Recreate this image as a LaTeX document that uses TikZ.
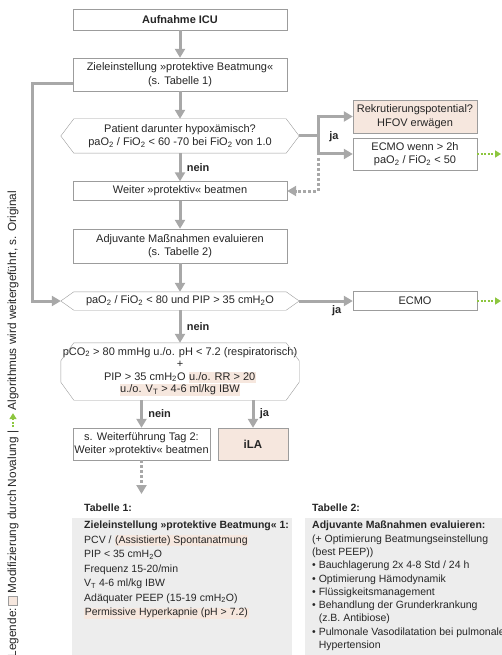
\documentclass[tikz,border=0pt]{standalone}
\usepackage{fontspec}
\setmainfont{Liberation Sans}
\usetikzlibrary{arrows.meta}
\definecolor{arrgray}{HTML}{A8A8A8}
\definecolor{boxgray}{HTML}{9C9C9C}
\definecolor{salmon}{HTML}{F6E7DE}
\definecolor{tabgray}{HTML}{EDEDED}
\definecolor{novagreen}{HTML}{8DC63F}
\definecolor{ink}{HTML}{262626}
\newcommand{\hl}[1]{{\setlength{\fboxsep}{0.6pt}\colorbox{salmon}{\rule[-2.3pt]{0pt}{9.8pt}#1}}}
\begin{document}
\begin{tikzpicture}[x=1pt, y=-1pt, every node/.style={text=ink}, font=\fontsize{11}{13.5}\selectfont,
    box/.style={draw=boxgray, fill=white, minimum width=214pt, align=center, inner sep=1pt},
    hexa/.style={minimum width=238pt, align=center, inner sep=0pt},
    rim/.style={draw=boxgray},
    flow/.style={draw=arrgray, line width=3pt, -{Triangle[width=10pt,length=9pt]}},
    dotflow/.style={flow, dash pattern=on 3pt off 2pt},
    extflow/.style={draw=novagreen, line width=2pt, dash pattern=on 2pt off 1.5pt, -{Triangle[width=7pt,length=6pt]}},
    lbl/.style={font=\fontsize{11}{13}\selectfont\bfseries},
    tabbox/.style={fill=tabgray, anchor=north west, inner sep=0pt},
    tabtext/.style={anchor=north west, align=left, inner sep=0pt},
    legtxt/.style={rotate=90, anchor=west, inner sep=1.5pt, font=\fontsize{11.8}{13}\selectfont}]
\useasboundingbox (0,0) rectangle (501,655);

\node[box, minimum height=21pt, font=\fontsize{11}{13}\selectfont\bfseries] (icu) at (180,19.5) {Aufnahme ICU};
\node[box, minimum height=33pt] (ziel) at (180,74.5) {Zieleinstellung »protektive Beatmung«\\(s. Tabelle 1)};
\node[hexa, minimum height=34pt] (hyp) at (180,136) {Patient darunter hypoxämisch?\\paO\textsubscript{2} / FiO\textsubscript{2} < 60 -70 bei FiO\textsubscript{2} von 1.0};
\node[box, minimum height=19pt] (weiter) at (180,191) {Weiter »protektiv« beatmen};
\node[box, minimum height=34pt] (adj) at (180,246) {Adjuvante Maßnahmen evaluieren\\(s. Tabelle 2)};
\node[hexa, minimum height=18pt] (pao) at (180,301) {paO\textsubscript{2} / FiO\textsubscript{2} < 80 und PIP > 35 cmH\textsubscript{2}O};
\node[hexa, minimum height=57pt, font=\fontsize{11}{12.6}\selectfont] (crit) at (180,371.5) {pCO\textsubscript{2} > 80 mmHg u./o. pH < 7.2 (respiratorisch)\\+\\PIP > 35 cmH\textsubscript{2}O \hl{u./o. RR > 20}\\\hl{u./o. V\textsubscript{T} > 4-6 ml/kg IBW}};
\node[box, minimum width=137pt, minimum height=32pt] (tag2) at (141.5,444) {s. Weiterführung Tag 2:\\Weiter »protektiv« beatmen};
\node[box, minimum width=70pt, minimum height=32pt, fill=salmon, font=\fontsize{11.5}{13}\selectfont\bfseries] (ila) at (253,444) {iLA};
\node[box, minimum width=124pt, minimum height=33pt, fill=salmon] (rekr) at (415,116.5) {Rekrutierungspotential?\\HFOV erwägen};
\node[box, minimum width=124pt, minimum height=32pt] (ecmoa) at (415,154) {ECMO wenn > 2h\\paO\textsubscript{2} / FiO\textsubscript{2} < 50};
\node[box, minimum width=124pt, minimum height=19pt] (ecmob) at (415,301) {ECMO};

\draw[rim] (hyp.west) -- ([xshift=13pt]hyp.north west) -- ([xshift=-13pt]hyp.north east) -- (hyp.east)
  -- ([xshift=-13pt]hyp.south east) -- ([xshift=13pt]hyp.south west) -- cycle;
\draw[rim] (pao.west) -- ([xshift=13pt]pao.north west) -- ([xshift=-13pt]pao.north east) -- (pao.east)
  -- ([xshift=-13pt]pao.south east) -- ([xshift=13pt]pao.south west) -- cycle;
\draw[rim] ([xshift=13pt]crit.north west) -- ([xshift=-13pt]crit.north east) -- ([yshift=-18pt]crit.north east)
  -- ([yshift=18pt]crit.south east) -- ([xshift=-13pt]crit.south east) -- ([xshift=13pt]crit.south west)
  -- ([yshift=18pt]crit.south west) -- ([yshift=-18pt]crit.north west) -- cycle;

\coordinate (split) at (318,136);
\coordinate (dotturn) at (318,191);
\coordinate (loop) at (32,84);
\coordinate (tab1arr) at (141.5,494);
\coordinate (outa) at (501,154);
\coordinate (outb) at (501,301);

\draw[flow] (icu) -- (ziel);
\draw[flow] (ziel) -- (hyp);
\draw[flow] (hyp) -- node[lbl, right, xshift=2pt] (nein1) {nein} (weiter);
\draw[flow] (weiter) -- (adj);
\draw[flow] (adj) -- (pao);
\draw[flow] (pao) -- node[lbl, right, xshift=2pt] (nein2) {nein} (crit);
\draw[flow] (crit.south -| tag2) -- node[lbl, right, xshift=2pt] (nein3) {nein} (tag2);
\draw[flow] (crit.south -| ila) -- node[lbl, right, xshift=2pt] (ja3) {ja} (ila);
\draw[dotflow] (tag2) -- (tab1arr);

\draw[flow] (hyp.east) -- (split) |- (rekr);
\draw[flow] (split) |- (ecmoa);
\draw[dotflow] ([yshift=-4pt]split |- ecmoa) -- (dotturn) -- (weiter);
\node[lbl] (ja1) at (334,137) {ja};
\draw[flow] (pao) -- node[lbl, below, pos=0.7] (ja2) {ja} (ecmob);
\draw[extflow] (ecmoa) -- (outa);
\draw[extflow] (ecmob) -- (outb);
\draw[flow] (ziel.west |- loop) -- (loop) |- (pao);

\node[lbl, anchor=west, inner sep=0pt, font=\fontsize{10.5}{13}\selectfont\bfseries] (tab1head) at (84,508) {Tabelle 1:};
\node[tabbox, minimum width=220pt, minimum height=140pt] (tab1) at (72,518) {};
\node[tabtext, font=\fontsize{10.5}{14.5}\selectfont] (tab1txt) at (84,521) {\textbf{Zieleinstellung »protektive Beatmung« 1:}\\
PCV / \hl{(Assistierte) Spontanatmung}\\
PIP < 35 cmH\textsubscript{2}O\\
Frequenz 15-20/min\\
V\textsubscript{T} 4-6 ml/kg IBW\\
Adäquater PEEP (15-19 cmH\textsubscript{2}O)\\
\hl{Permissive Hyperkapnie (pH > 7.2)}};

\node[lbl, anchor=west, inner sep=0pt, font=\fontsize{10.5}{13}\selectfont\bfseries] (tab2head) at (312,508) {Tabelle 2:};
\node[tabbox, minimum width=200pt, minimum height=140pt] (tab2) at (305,518) {};
\node[tabtext, font=\fontsize{10.5}{13.3}\selectfont] (tab2txt) at (312,521) {\textbf{Adjuvante Maßnahmen evaluieren:}\\
(+ Optimierung Beatmungseinstellung\\
(best PEEP))\\
• Bauchlagerung 2x 4-8 Std / 24 h\\
• Optimierung Hämodynamik\\
• Flüssigkeitsmanagement\\
• Behandlung der Grunderkrankung\\
\phantom{• }(z.B. Antibiose)\\
• Pulmonale Vasodilatation bei pulmonaler\\
\phantom{• }Hypertension};

\node[legtxt] (leg1) at (13,659) {Legende:};
\node[rotate=90, anchor=west, draw=boxgray, fill=salmon, minimum size=9pt, inner sep=0pt] (legsq) at ([yshift=1pt]leg1.east) {};
\node[legtxt] (leg2) at ([yshift=1pt]legsq.east) {Modifizierung durch Novalung |};
\coordinate (legarr) at ([yshift=16pt]leg2.east);
\draw[extflow, line width=1.5pt] ([yshift=2pt]leg2.east) -- (legarr);
\node[legtxt] (leg3) at ([yshift=1pt]legarr) {Algorithmus wird weitergeführt, s. Original};
\end{tikzpicture}
\end{document}
